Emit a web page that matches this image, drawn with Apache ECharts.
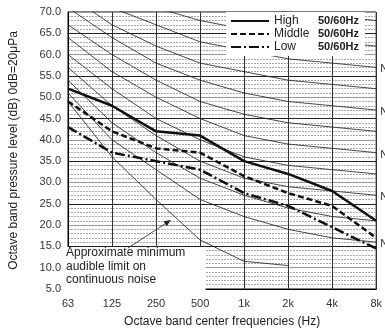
<!DOCTYPE html>
<html><head><meta charset="utf-8">
<script src="https://cdn.jsdelivr.net/npm/echarts@6/dist/echarts.min.js"></script>
<style>html,body{margin:0;padding:0;background:#fff}#c{width:385px;height:333px}</style>
</head><body><div id="c"></div>
<script>
const categories = ['63','125','250','500','1k','2k','4k','8k'];
const yTicks = [5,10,15,20,25,30,35,40,45,50,55,60,65,70];
const high   = [52, 48, 42, 41, 35, 32, 28, 21];
const middle = [49, 42, 38, 37, 31.5, 27.5, 24.5, 17];
const low    = [43, 37, 35, 33, 27.5, 24.5, 19.5, 14.5];
const threshold = [49, 36, 26, 16.5, 11.5, 10.5, null, null];
const nc20 = [51,40,33,26,22,19,17,16];
const nc25 = [54,44,37,31,27,24,22,21];
const nc30 = [57,48,41,35,31,29,28,27];
const nc35 = [60,52,45,40,36,34,33,32];
const nc40 = [64,56,50,45,41,39,38,37];
const nc45 = [67,60,54,49,46,44,43,42];
const nc50 = [71,64,58,54,51,49,48,47];
const nc55 = [74,67,62,58,56,54,53,52];
const nc60 = [77,71,67,63,61,59,58,57];
const nc65 = [80,75,71,68,66,64,63,62];
const nc70 = [83,79,75,72,71,70,69,68];
const ncCurves = [
  ['NC-20', nc20, true], ['NC-25', nc25, false],
  ['NC-30', nc30, true], ['NC-35', nc35, false], ['NC-40', nc40, true],
  ['NC-45', nc45, false], ['NC-50', nc50, true], ['NC-55', nc55, false],
  ['NC-60', nc60, true], ['NC-65', nc65, false], ['NC-70', nc70, false]
];
const legendNames = ['High','Middle','Low'];
const legendFreq = '50/60Hz';
const noteText = ['Approximate minimum','audible limit on','continuous noise'];

const FONT = 'Liberation Sans, Arial, Helvetica, sans-serif';
const chart = echarts.init(document.getElementById('c'), null, {renderer:'canvas'});

const series = [];
ncCurves.forEach(([name, data, lab]) => {
  series.push({
    name, type:'line', data, symbol:'none', silent:true, clip:true, z:2, color:'#1a1a1a',
    lineStyle:{color:'#1a1a1a', width:0.8},
    endLabel: lab ? {show:true, formatter:name, distance:4, color:'#333', fontSize:11, fontFamily:FONT, offset:[0,2]} : {show:false}
  });
});
series.push({name:'threshold', type:'line', data:threshold, symbol:'none', silent:true, z:2, color:'#1a1a1a',
  lineStyle:{color:'#1a1a1a', width:0.8}});
series.push({name:'High', type:'line', data:high, symbol:'none', z:5, color:'#111',
  lineStyle:{color:'#111', width:2.5}});
series.push({name:'Middle', type:'line', data:middle, symbol:'none', z:5, color:'#111',
  lineStyle:{color:'#111', width:2.5, type:[6,3]}});
series.push({name:'Low', type:'line', data:low, symbol:'none', z:5, color:'#111',
  lineStyle:{color:'#111', width:2.5, type:[10,3,2,3]}});

chart.setOption({
  animation:false,
  backgroundColor:'#fff',
  textStyle:{fontFamily:FONT},
  grid:{left:62, right:8, top:12, bottom:41, show:true, borderColor:'#000', borderWidth:1},
  legend:{
    data:legendNames, orient:'vertical', left:226, top:12, itemWidth:38, itemHeight:9, itemGap:1,
    backgroundColor:'#fff', padding:[3,6,3,4],
    itemStyle:{color:'rgba(0,0,0,0)', borderWidth:0, opacity:0},
    formatter: n => '{a|' + n + '}{b|' + legendFreq + '}',
    textStyle:{rich:{
      a:{width:44, fontSize:12, color:'#222', fontFamily:FONT, lineHeight:9},
      b:{fontSize:11, fontWeight:'bold', color:'#222', fontFamily:FONT, lineHeight:9}
    }}
  },
  xAxis:{
    type:'category', data:categories, boundaryGap:false,
    name:'Octave band center frequencies (Hz)', nameLocation:'middle', nameGap:27,
    nameTextStyle:{fontSize:12, color:'#222', fontFamily:FONT},
    axisLine:{lineStyle:{color:'#000'}},
    axisTick:{show:false},
    axisLabel:{fontSize:11, color:'#333', margin:9, fontFamily:FONT},
    splitLine:{show:true, lineStyle:{color:'#333', width:1}}
  },
  yAxis:{
    type:'value', min:yTicks[0], max:yTicks[yTicks.length-1], interval:5,
    name:'Octave band pressure level (dB) 0dB=20\u03bcPa', nameLocation:'middle', nameGap:48,
    nameTextStyle:{fontSize:12, color:'#222', fontFamily:FONT},
    axisLine:{show:true, lineStyle:{color:'#000'}},
    axisTick:{show:false},
    axisLabel:{fontSize:11, color:'#333', margin:7, fontFamily:FONT, formatter:v => v.toFixed(1)},
    splitLine:{show:true, lineStyle:{color:['#222','#999'], width:1.2}},
    minorTick:{show:false, splitNumber:5},
    minorSplitLine:{show:true, lineStyle:{color:'#aaa', width:1, type:[2,1]}}
  },
  series
});

// annotation box and arrow
const arrowFrom = [128, 248];
const arrowTo = [171, 220];
const ang = Math.atan2(arrowTo[1]-arrowFrom[1], arrowTo[0]-arrowFrom[0]);
const ah = 7, aw = 3;
const head = [
  arrowTo,
  [arrowTo[0]-ah*Math.cos(ang)+aw*Math.sin(ang), arrowTo[1]-ah*Math.sin(ang)-aw*Math.cos(ang)],
  [arrowTo[0]-ah*Math.cos(ang)-aw*Math.sin(ang), arrowTo[1]-ah*Math.sin(ang)+aw*Math.cos(ang)]
];
chart.setOption({graphic:[
  {type:'rect', shape:{x:62.5, y:247, width:143, height:44.5}, style:{fill:'#fff'}, z:10},
  {type:'text', x:66, y:246, z:11, style:{text:noteText.join('\n'), fontSize:12, lineHeight:13.5, fill:'#222', font:'12px ' + FONT}},
  {type:'line', shape:{x1:arrowFrom[0], y1:arrowFrom[1], x2:arrowTo[0]-4*Math.cos(ang), y2:arrowTo[1]-4*Math.sin(ang)}, style:{stroke:'#222', lineWidth:0.8}, z:11},
  {type:'polygon', shape:{points:head}, style:{fill:'#222'}, z:11}
]});
</script></body></html>
